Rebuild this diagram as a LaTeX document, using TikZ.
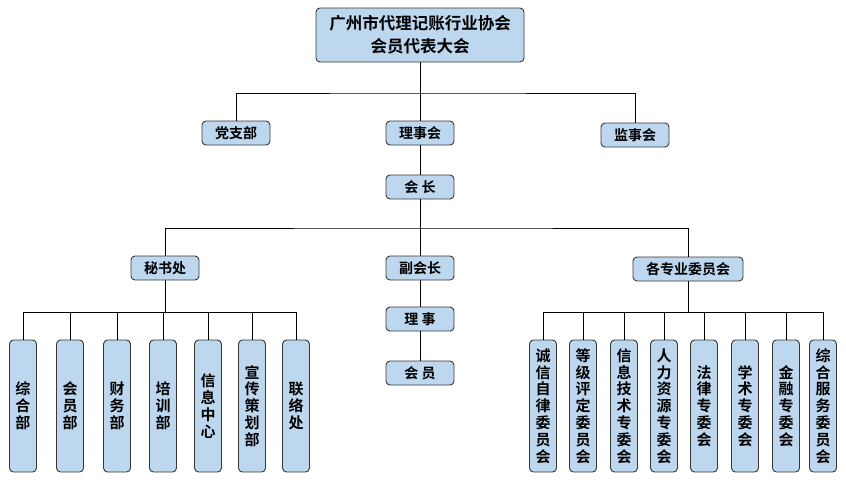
\documentclass[tikz,border=0pt]{standalone}
\usepackage{fontspec}
\usepackage{tikz}
\usetikzlibrary{positioning}
\newfontfamily\cjk{Noto Sans CJK SC}[BoldFont={Noto Sans CJK SC Bold}]
\definecolor{orgblue}{RGB}{189, 215, 238}
\definecolor{orgedge}{RGB}{55, 55, 55}

\begin{document}
\begin{tikzpicture}[x=1pt, y=-1pt,
    box/.style={draw=orgedge, fill=orgblue, rounded corners=4pt,
        line width=0.9pt, inner sep=0pt,
        font={\cjk\bfseries\fontsize{14}{16}\selectfont}},
    smallbox/.style={box, minimum width=68pt, minimum height=24pt},
    tallbox/.style={box, minimum width=27pt, minimum height=132pt,
        align=center, font={\cjk\bfseries\fontsize{15}{16.8}\selectfont}},
    link/.style={draw=black, line width=0.8pt}]
    \useasboundingbox (0,0) rectangle (846,483);

    % Top level
    \node[box, minimum width=208pt, minimum height=54pt, align=center,
        font={\cjk\bfseries\fontsize{16.5}{23}\selectfont}]
        (assembly) at (420,35) {广州市代理记账行业协会\\会员代表大会};

    % Second level
    \node[smallbox] (party) at (236,133) {党支部};
    \node[smallbox] (council) at (420,133) {理事会};
    \node[smallbox] (supervisor) at (635,135) {监事会};
    \node[smallbox] (president) at (420,187) {会\ 长};

    % Third level
    \node[smallbox] (secretariat) at (165,268) {秘书处};
    \node[smallbox] (vicepres) at (420,268) {副会长};
    \node[smallbox, minimum width=110pt] (committees) at (688,269) {各专业委员会};
    \node[smallbox] (director) at (420,319) {理\ 事};
    \node[smallbox] (member) at (420,373) {会\ 员};

    % Bus points
    \coordinate (busTop) at (420,93);
    \coordinate (busMid) at (420,228);
    \coordinate (busLeft) at (165,312);
    \coordinate (busRight) at (688,312);

    % Upper connectors
    \draw[link] (assembly) -- (busTop);
    \draw[link] (party.north) |- (busTop) -| (supervisor.north);
    \draw[link] (busTop) -- (council.north);
    \draw[link] (council) -- (president);
    \draw[link] (president) -- (busMid);
    \draw[link] (secretariat.north) |- (busMid) -| (committees.north);
    \draw[link] (busMid) -- (vicepres.north);
    \draw[link] (vicepres) -- (director);
    \draw[link] (director) -- (member);

    % Departments under the secretariat
    \foreach \x/\n/\t in {23/1/{综\\合\\部}, 70/2/{会\\员\\部}, 117/3/{财\\务\\部},
        163/4/{培\\训\\部}, 208/5/{信\\息\\中\\心}, 252/6/{宣\\传\\策\\划\\部},
        296/7/{联\\络\\处}} {
        \node[tallbox] (dept\n) at (\x,406) {\t};
        \draw[link] (dept\n.north) -- (dept\n.north |- busLeft);
    }
    \draw[link] (secretariat) -- (busLeft);
    \draw[link] (dept1.north |- busLeft) -- (dept7.north |- busLeft);

    % Special committees
    \foreach \x/\n/\t in {543/1/{诚\\信\\自\\律\\委\\员\\会}, 583/2/{等\\级\\评\\定\\委\\员\\会},
        624/3/{信\\息\\技\\术\\专\\委\\会}, 664/4/{人\\力\\资\\源\\专\\委\\会},
        704/5/{法\\律\\专\\委\\会}, 745/6/{学\\术\\专\\委\\会},
        786/7/{金\\融\\专\\委\\会}, 823/8/{综\\合\\服\\务\\委\\员\\会}} {
        \node[tallbox] (comm\n) at (\x,406) {\t};
        \draw[link] (comm\n.north) -- (comm\n.north |- busRight);
    }
    \draw[link] (committees) -- (busRight);
    \draw[link] (comm1.north |- busRight) -- (comm8.north |- busRight);
\end{tikzpicture}
\end{document}
